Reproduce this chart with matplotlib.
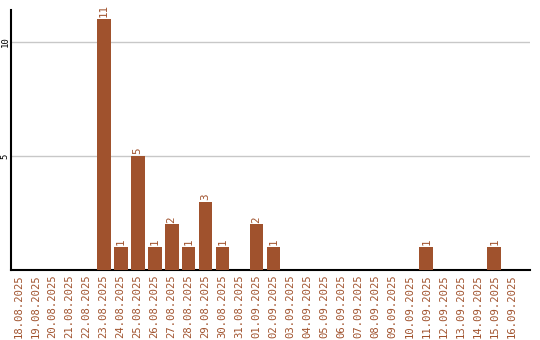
import matplotlib
matplotlib.use("Agg")
import matplotlib.pyplot as plt

dates = ["18.08.2025", "19.08.2025", "20.08.2025", "21.08.2025", "22.08.2025",
         "23.08.2025", "24.08.2025", "25.08.2025", "26.08.2025", "27.08.2025",
         "28.08.2025", "29.08.2025", "30.08.2025", "31.08.2025", "01.09.2025",
         "02.09.2025", "03.09.2025", "04.09.2025", "05.09.2025", "06.09.2025",
         "07.09.2025", "08.09.2025", "09.09.2025", "10.09.2025", "11.09.2025",
         "12.09.2025", "13.09.2025", "14.09.2025", "15.09.2025", "16.09.2025"]
values = [0, 0, 0, 0, 0, 11, 1, 5, 1, 2, 1, 3, 1, 0, 2, 1, 0, 0, 0, 0,
          0, 0, 0, 0, 1, 0, 0, 0, 1, 0]
yticks = [5, 10]

color = "#A0522D"
plt.rcParams["font.family"] = ["DejaVu Sans Mono"]

fig = plt.figure(figsize=(5.4, 3.4), dpi=100)
ax = fig.add_axes([11/540, 1-270/340, 519/540, 260/340])
x = list(range(len(dates)))
ax.bar(x, values, width=0.82, color=color, zorder=3)
for xi, v in zip(x, values):
    if v > 0:
        ax.text(xi, v + 0.08, str(v), rotation=90, ha="center", va="bottom",
                fontsize=7.8, color=color)
ax.set_xlim(-0.45, 30.1)
ax.set_ylim(0, 11.4)
ax.set_yticks(yticks)
ax.set_yticklabels([str(t) for t in yticks], rotation=90, va="center", fontsize=6.5)
ax.yaxis.grid(True, color="#c8c8c8", linewidth=1, zorder=0)
ax.set_xticks(x)
ax.set_xticklabels(dates, rotation=90, fontsize=7.6, color=color)
ax.tick_params(length=0, pad=3)
ax.tick_params(axis="y", pad=1)
for s in ["top", "right"]:
    ax.spines[s].set_visible(False)
ax.spines["left"].set_linewidth(1.5)
ax.spines["bottom"].set_linewidth(1.5)
fig.savefig("out.png", dpi=100)
